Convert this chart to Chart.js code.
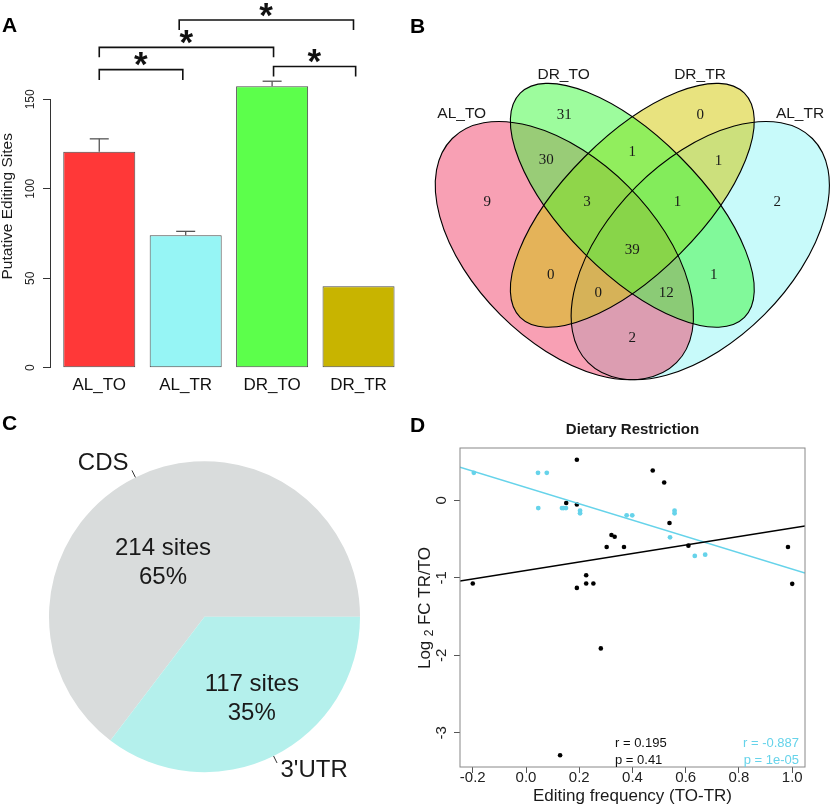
<!DOCTYPE html>
<html>
<head>
<meta charset="utf-8">
<script src="https://cdn.jsdelivr.net/npm/chart.js@4.4.1/dist/chart.umd.min.js"></script>
<style>
html,body{margin:0;padding:0;background:#fff;}
body{position:relative;width:830px;height:805px;overflow:hidden;font-family:"Liberation Sans",Arial,sans-serif;}
canvas{position:absolute;}
.panel{position:absolute;font-weight:bold;font-size:21px;line-height:21px;color:#000;}
</style>
</head>
<body>
<canvas id="chartA" width="410" height="400" style="left:0px;top:0px"></canvas>
<canvas id="chartB" width="425" height="400" style="left:405px;top:0px"></canvas>
<canvas id="chartC" width="405" height="400" style="left:0px;top:405px"></canvas>
<canvas id="chartD" width="425" height="400" style="left:405px;top:405px"></canvas>
<div class="panel" style="left:2px;top:14px">A</div>
<div class="panel" style="left:410px;top:15px">B</div>
<div class="panel" style="left:2px;top:412px">C</div>
<div class="panel" style="left:410px;top:414px">D</div>
<script>
// ================= DATA =================
// Panel A: putative editing sites per group
const barNames = ['AL_TO', 'AL_TR', 'DR_TO', 'DR_TR'];
const barPos = [0.7, 1.9, 3.1, 4.3];
const barValues = [120.7, 74.0, 157.3, 45.5];
const barErrors = [7.2, 2.2, 2.8, 0];
// significance brackets (x in bar units, y in sites)
const bracketFrom = [0.70, 0.70, 1.81, 3.12];
const bracketTo = [1.86, 3.12, 4.23, 4.26];
const bracketBase = [160.8, 173.5, 188.7, 162.7];
const bracketTop = [166.6, 179.0, 194.3, 168.3];
const bracketMark = ['*', '*', '*', '*'];

// Panel B: Venn diagram counts
const vennSets = ['AL_TO', 'DR_TO', 'DR_TR', 'AL_TR'];
const vennCounts = [9, 31, 0, 2, 30, 1, 1, 3, 1, 39, 0, 0, 12, 1, 2];

// Panel C: pie
const pieLabels = ['CDS', "3'UTR"];
const pieValues = [214, 117];
const piePercents = ['65%', '35%'];

// Panel D: scatter
const blackX = [-0.200, 0.191, 0.151, 0.191, 0.476, 0.519, 0.539, 0.321, 0.333, 0.303, 0.368, 0.610, 0.984, 1.000, 0.226, 0.191, 0.226, 0.253, 0.281, 0.128];
const blackY = [-1.073, 0.524, -0.034, -0.052, 0.386, 0.232, -0.292, -0.446, -0.468, -0.601, -0.601, -0.584, -0.601, -1.077, -0.966, -1.129, -1.073, -1.073, -1.910, -3.288];
const cyanX = [-0.196, 0.045, 0.078, 0.046, 0.135, 0.141, 0.150, 0.203, 0.203, 0.378, 0.399, 0.558, 0.558, 0.541, 0.634, 0.673];
const cyanY = [0.356, 0.356, 0.356, -0.099, -0.099, -0.099, -0.099, -0.133, -0.167, -0.193, -0.193, -0.133, -0.167, -0.476, -0.717, -0.700];
const fitX = [-0.248, 1.048];
const fitBlackY = [-1.039, -0.330];
const fitCyanY = [0.429, -0.936];
const statBlack = ['r = 0.195', 'p = 0.41'];
const statCyan = ['r = -0.887', 'p = 1e-05'];

// ================= LAYOUT / STYLE =================
const FONT = '"Liberation Sans", Arial, Helvetica, sans-serif';
const SERIF = '"Liberation Serif", "Times New Roman", serif';
Chart.defaults.font.family = FONT;
Chart.defaults.color = '#1a1a1a';
const TXT = '#1a1a1a';
const CYAN = '#66D3EA';

const barColors = ['#FF3838', '#96F5F5', '#5CFF4B', '#C8B400'];

// Venn geometry in diagram units (VennDiagram quad layout)
const vennEllipses = [
  {cx: 0.35, cy: 0.47, a: 0.35, b: 0.20, rot: 45},
  {cx: 0.50, cy: 0.57, a: 0.35, b: 0.15, rot: 45},
  {cx: 0.50, cy: 0.57, a: 0.35, b: 0.15, rot: -45},
  {cx: 0.65, cy: 0.47, a: 0.35, b: 0.20, rot: -45}
];
const vennFill = ['rgba(241,65,105,0.5)', 'rgba(60,250,60,0.5)', 'rgba(210,200,0,0.5)', 'rgba(145,245,245,0.5)'];
const vennDrawOrder = [3, 0, 2, 1];
const vennCountX = [0.18, 0.35, 0.65, 0.82, 0.31, 0.50, 0.69, 0.40, 0.60, 0.50, 0.32, 0.425, 0.575, 0.68, 0.50];
const vennCountY = [0.578, 0.769, 0.769, 0.578, 0.670, 0.688, 0.668, 0.578, 0.578, 0.471, 0.416, 0.377, 0.377, 0.416, 0.276];
const vennNameX = [0.1234, 0.3483, 0.6494, 0.8702];
const vennNameY = [0.7713, 0.8576, 0.8576, 0.7713];

const pieColors = ['#D9DCDC', '#B4F0EC'];
const pieTextAnchor = [[-0.267, -0.349], [0.304, 0.526]];

function line(ctx, x1, y1, x2, y2) { ctx.beginPath(); ctx.moveTo(x1, y1); ctx.lineTo(x2, y2); ctx.stroke(); }

function drawStar(ctx, txt, cx, cy, inkW) {
  ctx.font = 'bold 40px ' + FONT;
  let m = ctx.measureText(txt);
  const w0 = (m.actualBoundingBoxLeft + m.actualBoundingBoxRight) || 15;
  const size = 40 * inkW / w0;
  ctx.font = 'bold ' + size + 'px ' + FONT;
  m = ctx.measureText(txt);
  ctx.textAlign = 'left'; ctx.textBaseline = 'alphabetic';
  const x = cx - (m.actualBoundingBoxRight - m.actualBoundingBoxLeft) / 2;
  const y = cy + (m.actualBoundingBoxAscent - m.actualBoundingBoxDescent) / 2;
  ctx.fillText(txt, x, y);
}

// ================= PANEL A =================
const panelAPlugin = {
  id: 'panelA',
  afterDraw(chart) {
    const {ctx, scales: {x, y}} = chart;
    ctx.save();
    ctx.strokeStyle = '#555'; ctx.lineWidth = 1.3;
    barPos.forEach((p, i) => {
      if (!barErrors[i]) return;
      const px = x.getPixelForValue(p);
      const y0 = y.getPixelForValue(barValues[i]);
      const y1 = y.getPixelForValue(barValues[i] + barErrors[i]);
      line(ctx, px, y0, px, y1);
      line(ctx, px - 9.5, y1, px + 9.5, y1);
    });
    ctx.strokeStyle = '#111'; ctx.lineWidth = 1.6; ctx.fillStyle = '#111';
    bracketFrom.forEach((f, i) => {
      const xa = x.getPixelForValue(f), xb = x.getPixelForValue(bracketTo[i]);
      const yb = y.getPixelForValue(bracketBase[i]), yt = y.getPixelForValue(bracketTop[i]);
      ctx.beginPath(); ctx.moveTo(xa, yb); ctx.lineTo(xa, yt); ctx.lineTo(xb, yt); ctx.lineTo(xb, yb); ctx.stroke();
      drawStar(ctx, bracketMark[i], (xa + xb) / 2, yt - 10.5, 14);
    });
    ctx.save();
    ctx.translate(7.5, 206.3); ctx.rotate(-Math.PI / 2);
    ctx.font = '15.5px ' + FONT; ctx.textAlign = 'center'; ctx.textBaseline = 'middle'; ctx.fillStyle = TXT;
    ctx.fillText('Putative Editing Sites', 0, 0);
    ctx.restore();
    ctx.restore();
  }
};

new Chart(document.getElementById('chartA'), {
  type: 'bar',
  data: {datasets: [{
    data: barPos.map((p, i) => ({x: p, y: barValues[i]})),
    backgroundColor: barColors, borderColor: '#4a4a4a', borderWidth: 1, borderSkipped: false,
    barPercentage: 1, categoryPercentage: 1 / 1.2, clip: false
  }]},
  options: {
    responsive: false, animation: false, devicePixelRatio: 1,
    layout: {padding: {left: 0, right: 2.2, top: 99.3, bottom: 0}},
    plugins: {legend: {display: false}, tooltip: {enabled: false}},
    scales: {
      x: {
        type: 'linear', min: 0.016, max: 4.984, offset: false,
        grid: {display: false, drawTicks: false, offset: false}, border: {display: false},
        afterBuildTicks: s => { s.ticks = barPos.map(v => ({value: v})); },
        afterFit: s => { s.height = 32.3; },
        ticks: {autoSkip: false, maxRotation: 0, minRotation: 0, padding: 7, font: {size: 17}, color: '#111',
          callback: v => { const i = barPos.indexOf(v); return i >= 0 ? barNames[i] : ''; }}
      },
      y: {
        min: 0, max: 150,
        afterFit: s => { s.width = 50; },
        grid: {drawOnChartArea: false, drawTicks: true, tickLength: 7, color: '#333'},
        border: {display: true, color: '#333'},
        ticks: {stepSize: 50, minRotation: 90, maxRotation: 90, crossAlign: 'center', padding: 2.5, font: {size: 12}, color: '#222'}
      }
    }
  },
  plugins: [panelAPlugin]
});

// ================= PANEL B =================
const vennPlugin = {
  id: 'venn',
  beforeDatasetsDraw(chart) {
    const {ctx, scales: {x, y}} = chart;
    const ux = x.getPixelForValue(1) - x.getPixelForValue(0);
    const uy = y.getPixelForValue(0) - y.getPixelForValue(1);
    ctx.save();
    vennDrawOrder.forEach(i => {
      const e = vennEllipses[i];
      ctx.beginPath();
      ctx.ellipse(x.getPixelForValue(e.cx), y.getPixelForValue(e.cy), e.a * ux, e.b * uy, e.rot * Math.PI / 180, 0, 2 * Math.PI);
      ctx.fillStyle = vennFill[i]; ctx.fill();
    });
    ctx.strokeStyle = '#000'; ctx.lineWidth = 1.1;
    vennEllipses.forEach(e => {
      ctx.beginPath();
      ctx.ellipse(x.getPixelForValue(e.cx), y.getPixelForValue(e.cy), e.a * ux, e.b * uy, e.rot * Math.PI / 180, 0, 2 * Math.PI);
      ctx.stroke();
    });
    ctx.restore();
  },
  afterDatasetsDraw(chart) {
    const {ctx, scales: {x, y}} = chart;
    const meta = chart.getDatasetMeta(0);
    ctx.save();
    ctx.fillStyle = TXT; ctx.textAlign = 'center'; ctx.textBaseline = 'middle';
    ctx.font = '15px ' + SERIF;
    meta.data.forEach((pt, i) => ctx.fillText(String(vennCounts[i]), pt.x, pt.y));
    ctx.font = '15.5px ' + FONT;
    vennSets.forEach((s, i) => ctx.fillText(s, x.getPixelForValue(vennNameX[i]), y.getPixelForValue(vennNameY[i])));
    ctx.restore();
  }
};

new Chart(document.getElementById('chartB'), {
  type: 'scatter',
  data: {datasets: [{data: vennCountX.map((v, i) => ({x: v, y: vennCountY[i]})), pointRadius: 0, backgroundColor: 'rgba(0,0,0,0)'}]},
  options: {
    responsive: false, animation: false, devicePixelRatio: 1,
    layout: {padding: 0},
    plugins: {legend: {display: false}, tooltip: {enabled: false}},
    scales: {
      x: {type: 'linear', display: false, min: -0.0018, max: 0.9364},
      y: {type: 'linear', display: false, min: 0.1402, max: 1.0232}
    }
  },
  plugins: [vennPlugin]
});

// ================= PANEL C =================
const piePlugin = {
  id: 'pieText',
  afterDatasetsDraw(chart) {
    const {ctx} = chart;
    const meta = chart.getDatasetMeta(0);
    ctx.save();
    ctx.fillStyle = TXT; ctx.strokeStyle = '#333'; ctx.lineWidth = 1;
    ctx.font = '24px ' + FONT;
    meta.data.forEach((arc, i) => {
      const p = arc.getProps(['x', 'y', 'startAngle', 'endAngle', 'outerRadius'], true);
      const mid = (p.startAngle + p.endAngle) / 2;
      const c = Math.cos(mid), s = Math.sin(mid), r = p.outerRadius;
      line(ctx, p.x + c * r, p.y + s * r, p.x + c * r * 1.05, p.y + s * r * 1.05);
      ctx.textBaseline = 'middle';
      ctx.textAlign = c < 0 ? 'right' : 'left';
      ctx.fillText(pieLabels[i], p.x + c * r * 1.1, p.y + s * r * 1.1);
      ctx.textAlign = 'center';
      const ox = p.x + pieTextAnchor[i][0] * r, oy = p.y + pieTextAnchor[i][1] * r;
      ctx.fillText(pieValues[i] + ' sites', ox, oy - 14.5);
      ctx.fillText(piePercents[i], ox, oy + 14.5);
    });
    ctx.restore();
  }
};

const pieTotal = pieValues.reduce((a, b) => a + b, 0);
new Chart(document.getElementById('chartC'), {
  type: 'pie',
  data: {labels: pieLabels, datasets: [{data: pieValues, backgroundColor: pieColors, borderWidth: 0}]},
  options: {
    responsive: false, animation: false, devicePixelRatio: 1,
    rotation: 90 + 360 * pieValues[1] / pieTotal,
    layout: {padding: {left: 49, right: 45, top: 56.2, bottom: 32.8}},
    plugins: {legend: {display: false}, tooltip: {enabled: false}}
  },
  plugins: [piePlugin]
});

// ================= PANEL D =================
const panelDPlugin = {
  id: 'panelD',
  afterDraw(chart) {
    const {ctx, chartArea: ca} = chart;
    ctx.save();
    ctx.strokeStyle = '#888'; ctx.lineWidth = 1;
    ctx.strokeRect(ca.left, ca.top, ca.width, ca.height);
    const mx = (ca.left + ca.right) / 2;
    ctx.fillStyle = TXT; ctx.textAlign = 'center'; ctx.textBaseline = 'middle';
    ctx.font = 'bold 15px ' + FONT;
    ctx.fillText('Dietary Restriction', mx, 25);
    ctx.font = '17px ' + FONT;
    ctx.fillText('Editing frequency (TO-TR)', mx, 391);
    // y title with subscript
    ctx.save();
    ctx.translate(19, 203); ctx.rotate(-Math.PI / 2);
    ctx.textBaseline = 'alphabetic'; ctx.textAlign = 'left';
    const big = '17px ' + FONT, small = '12px ' + FONT;
    ctx.font = big; const w1 = ctx.measureText('Log').width;
    const w3 = ctx.measureText('FC TR/TO').width;
    ctx.font = small; const w2 = ctx.measureText('2').width;
    const gap = 4.5;
    const total = w1 + gap + w2 + gap + w3;
    let xx = -total / 2;
    ctx.font = big; ctx.fillText('Log', xx, 6); xx += w1 + gap;
    ctx.font = small; ctx.fillText('2', xx, 9); xx += w2 + gap;
    ctx.font = big; ctx.fillText('FC TR/TO', xx, 6);
    ctx.restore();
    // statistics
    ctx.font = '13px ' + FONT; ctx.textBaseline = 'middle';
    ctx.textAlign = 'left'; ctx.fillStyle = '#111';
    ctx.fillText(statBlack[0], 210, 338);
    ctx.fillText(statBlack[1], 210, 355);
    ctx.textAlign = 'right'; ctx.fillStyle = CYAN;
    ctx.fillText(statCyan[0], 394, 338);
    ctx.fillText(statCyan[1], 394, 355);
    ctx.restore();
  }
};

new Chart(document.getElementById('chartD'), {
  type: 'scatter',
  data: {datasets: [
    {type: 'line', data: fitX.map((v, i) => ({x: v, y: fitBlackY[i]})), borderColor: '#000', borderWidth: 1.5, pointRadius: 0, fill: false},
    {type: 'line', data: fitX.map((v, i) => ({x: v, y: fitCyanY[i]})), borderColor: CYAN, borderWidth: 1.5, pointRadius: 0, fill: false},
    {data: blackX.map((v, i) => ({x: v, y: blackY[i]})), backgroundColor: '#000', borderWidth: 0, pointRadius: 2.3},
    {data: cyanX.map((v, i) => ({x: v, y: cyanY[i]})), backgroundColor: CYAN, borderWidth: 0, pointRadius: 2.4}
  ]},
  options: {
    responsive: false, animation: false, devicePixelRatio: 1,
    layout: {padding: {left: 0, right: 25, top: 43, bottom: 0}},
    plugins: {legend: {display: false}, tooltip: {enabled: false}},
    scales: {
      x: {
        type: 'linear', min: -0.248, max: 1.048,
        afterFit: s => { s.height = 38; },
        grid: {drawOnChartArea: false, drawTicks: true, tickLength: 6, color: '#555'},
        border: {display: false},
        ticks: {stepSize: 0.2, includeBounds: false, autoSkip: false, maxRotation: 0, padding: -3.7,
          font: {size: 15}, color: '#222', callback: v => Number(v).toFixed(1)}
      },
      y: {
        type: 'linear', min: -3.4405, max: 0.6765,
        afterFit: s => { s.width = 55; },
        grid: {drawOnChartArea: false, drawTicks: true, tickLength: 6, color: '#555'},
        border: {display: false},
        ticks: {stepSize: 1, includeBounds: false, minRotation: 90, maxRotation: 90, crossAlign: 'center', padding: 5.6,
          font: {size: 15}, color: '#222'}
      }
    }
  },
  plugins: [panelDPlugin]
});
</script>
</body>
</html>
